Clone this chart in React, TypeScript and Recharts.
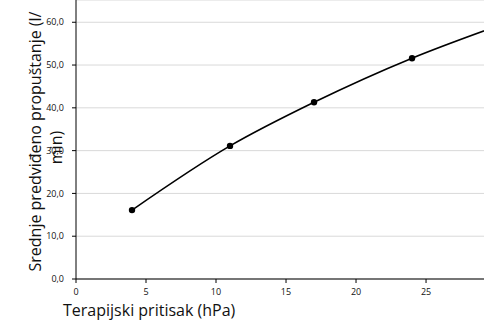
import { LineChart, Line, XAxis, YAxis, CartesianGrid } from 'recharts';

// therapy pressure (hPa) and mean predicted leak (l/min)
const pressures = [4, 11, 17, 24, 30];
const leaks = [16.1, 31.1, 41.3, 51.6, 59.0];
const xTicks = [0, 5, 10, 15, 20, 25];
const yTicks = [0, 10, 20, 30, 40, 50, 60];

const data = pressures.map((p, i) => ({ p, leak: leaks[i] }));

const X_MAX = 29.14;
const fontFamily = '"Open Sans", sans-serif';

const fmt = (v: number) => v.toFixed(1).replace('.', ',');

const YTitle = (props: any) => {
  const { viewBox } = props;
  const cy = viewBox.y + viewBox.height / 2;
  return (
    <g fill="#111" fontSize={16} fontFamily={fontFamily}>
      <text x={41} y={cy + 2} textAnchor="middle" transform={`rotate(-90, 41, ${cy + 2})`}>
        Srednje predviđeno propuštanje (l/
      </text>
      <text x={62} y={cy + 8} textAnchor="middle" transform={`rotate(-90, 62, ${cy + 8})`}>
        min)
      </text>
    </g>
  );
};

const Dot = (props: any) => {
  const { cx, cy, payload } = props;
  if (payload.p > X_MAX) return null;
  return <circle cx={cx} cy={cy} r={3.2} fill="#000" />;
};

export default function App() {
  return (
    <div style={{ position: 'absolute', left: 0, top: 0, background: '#fff' }}>
      <LineChart width={484} height={321} data={data} margin={{ top: 0, right: 0, bottom: 0, left: 0 }}>
        <CartesianGrid horizontal vertical={false} stroke="#d9d9d9" strokeWidth={1} />
        <XAxis
          dataKey="p"
          type="number"
          domain={[0, X_MAX]}
          allowDataOverflow
          ticks={xTicks}
          height={42}
          tickSize={4}
          tickMargin={6}
          stroke="#000"
          tick={{ fill: '#111', fontSize: 9, fontFamily }}
          label={{
            value: 'Terapijski pritisak (hPa)',
            position: 'insideBottomLeft',
            offset: 0,
            dx: -13,
            dy: -5,
            fill: '#111',
            fontSize: 16,
            fontFamily,
          }}
        />
        <YAxis
          type="number"
          domain={[0, 65.2]}
          ticks={yTicks}
          width={76}
          tickSize={4}
          tickMargin={8}
          stroke="#000"
          tickFormatter={fmt}
          tick={{ fill: '#111', fontSize: 9, fontFamily }}
          label={{ content: <YTitle /> }}
        />
        <Line
          dataKey="leak"
          type="monotone"
          stroke="#000"
          strokeWidth={1.6}
          dot={<Dot />}
          activeDot={false}
          isAnimationActive={false}
        />
      </LineChart>
    </div>
  );
}
